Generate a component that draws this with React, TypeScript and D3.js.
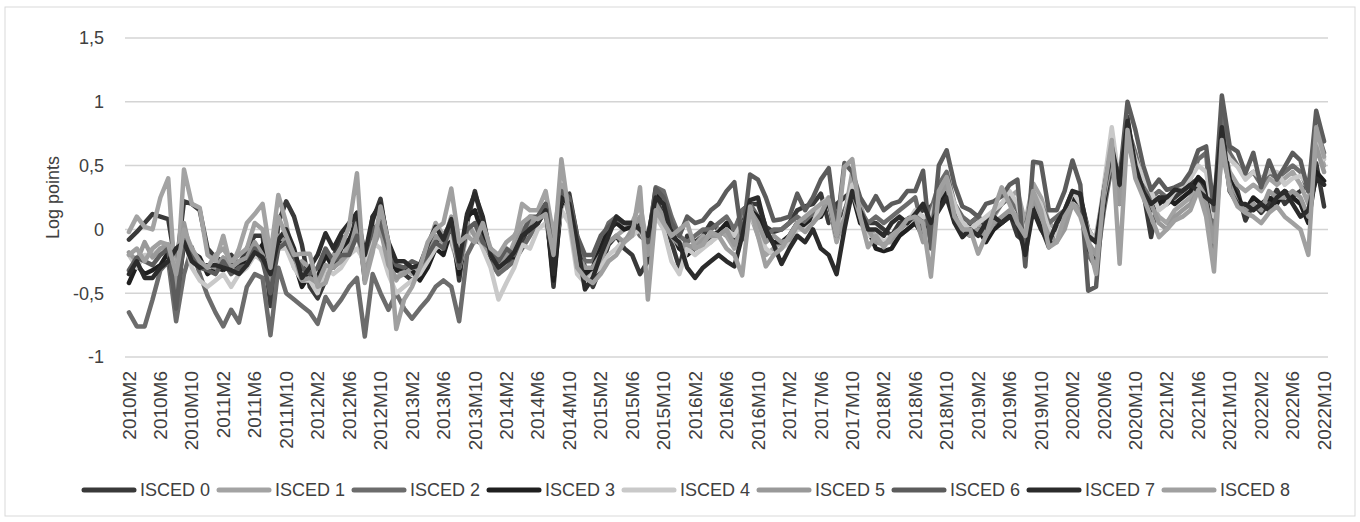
import React from "react";
import * as d3 from "d3";

// ---------- DATA ----------
const years: number[] = [2010, 2011, 2012, 2013, 2014, 2015, 2016, 2017, 2018, 2019, 2020, 2021, 2022];
const categories: string[] = [];
years.forEach((yr) => {
  for (let m = 1; m <= 12; m++) {
    if (yr === 2010 && m < 2) continue;
    if (yr === 2022 && m > 10) continue;
    categories.push(`${yr}M${m}`);
  }
});

const seriesNames: string[] = ["ISCED 0", "ISCED 1", "ISCED 2", "ISCED 3", "ISCED 4", "ISCED 5", "ISCED 6", "ISCED 7", "ISCED 8"];
const seriesColors: string[] = ["#393939", "#a3a3a3", "#6c6c6c", "#1f1f1f", "#c9c9c9", "#999999", "#5c5c5c", "#2b2b2b", "#a0a0a0"];

const isced0: number[] = [
  -0.08, -0.02, 0.05, 0.12, 0.10, 0.08, -0.30, 0.22, 0.20, 0.15, -0.15,
  -0.22, -0.25, -0.20, -0.28, -0.15, -0.05, -0.05, -0.60, 0.05, 0.22, 0.10, -0.12,
  -0.45, -0.54, -0.40, -0.22, -0.05, -0.13, 0.13, -0.40, 0.07, 0.24, -0.15, -0.32,
  -0.35, -0.40, -0.35, -0.20, -0.10, -0.05, 0.05, -0.40, 0.05, 0.30, 0.05, -0.28,
  -0.30, -0.30, -0.20, -0.10, 0.05, 0.10, 0.20, -0.45, 0.25, 0.28, -0.05, -0.30,
  -0.45, -0.30, -0.12, -0.05, -0.15, -0.20, -0.35, -0.25, 0.25, 0.10, -0.10, -0.30,
  -0.05, -0.10, -0.05, 0.05, 0.00, -0.05, -0.02, 0.15, 0.20, 0.20, 0.02, -0.02,
  0.00, 0.05, 0.15, 0.18, 0.20, 0.28, 0.05, 0.20, 0.25, 0.30, 0.10, 0.05,
  0.05, 0.00, -0.05, 0.05, 0.08, 0.12, 0.15, 0.18, 0.25, 0.33, 0.10, -0.05,
  0.05, 0.10, 0.00, 0.05, 0.07, 0.13, -0.05, -0.10, 0.18, 0.02, -0.14, 0.05,
  0.10, 0.28, 0.25, 0.00, -0.10, 0.25, 0.65, 0.20, 0.88, 0.45, 0.30, -0.06,
  0.25, 0.20, 0.25, 0.30, 0.35, 0.40, 0.30, 0.15, 0.83, 0.40, 0.30, 0.07,
  0.20, 0.13, 0.20, 0.31, 0.20, 0.26, 0.30, 0.35, 0.52, 0.18,
];
const isced1: number[] = [
  -0.02, 0.10, 0.02, 0.00, 0.25, 0.40, -0.50, 0.47, 0.20, 0.17, -0.20,
  -0.25, -0.05, -0.30, -0.15, 0.05, 0.12, 0.20, -0.20, 0.27, 0.05, -0.30, -0.25,
  -0.30, -0.45, -0.38, -0.20, -0.25, -0.10, 0.00, -0.35, -0.05, 0.05, -0.25, -0.40,
  -0.30, -0.35, -0.30, -0.15, 0.05, -0.05, -0.10, -0.30, 0.05, -0.05, -0.10, -0.25,
  -0.35, -0.25, -0.10, 0.20, 0.15, 0.15, 0.30, -0.05, 0.35, 0.10, -0.25, -0.38,
  -0.35, -0.25, -0.10, -0.05, 0.00, 0.05, 0.20, -0.15, 0.15, 0.05, -0.05, -0.15,
  -0.15, -0.12, -0.05, -0.10, 0.00, -0.05, -0.15, 0.10, 0.12, -0.05, -0.20, -0.15,
  -0.10, -0.05, 0.05, 0.00, 0.05, 0.15, 0.20, -0.10, 0.10, 0.45, 0.20, 0.00,
  -0.05, -0.10, -0.10, -0.05, 0.00, 0.05, 0.10, 0.00, 0.20, 0.30, 0.15, 0.05,
  0.00, 0.05, -0.05, 0.10, 0.20, 0.25, 0.30, 0.05, 0.36, 0.25, 0.05, 0.00,
  0.05, 0.20, 0.15, -0.10, -0.05, 0.30, 0.60, 0.30, 0.70, 0.50, 0.35, 0.20,
  0.10, 0.05, 0.15, 0.20, 0.25, 0.35, 0.25, 0.00, 0.70, 0.45, 0.35, 0.30,
  0.35, 0.30, 0.40, 0.35, 0.40, 0.45, 0.35, 0.20, 0.70, 0.50,
];
const isced2: number[] = [
  -0.65, -0.76, -0.76, -0.55, -0.32, -0.25, -0.72, -0.35, -0.14, -0.35, -0.52,
  -0.65, -0.76, -0.63, -0.73, -0.45, -0.35, -0.38, -0.83, -0.30, -0.50, -0.55, -0.60,
  -0.65, -0.74, -0.53, -0.63, -0.55, -0.45, -0.38, -0.84, -0.35, -0.50, -0.63, -0.50,
  -0.62, -0.70, -0.62, -0.55, -0.45, -0.40, -0.45, -0.72, -0.20, -0.08, -0.12, -0.25,
  -0.35, -0.30, -0.25, -0.15, -0.05, 0.05, 0.15, -0.30, 0.20, 0.22, -0.10, -0.25,
  -0.25, -0.10, 0.05, 0.10, 0.05, 0.05, -0.05, -0.10, 0.33, 0.30, 0.10, -0.05,
  -0.10, -0.05, 0.00, 0.00, 0.05, 0.10, 0.00, 0.15, 0.20, 0.10, -0.05, 0.00,
  0.00, 0.05, 0.10, 0.05, 0.12, 0.15, 0.20, 0.00, 0.15, 0.30, 0.15, 0.05,
  0.10, 0.05, 0.10, 0.15, 0.20, 0.25, 0.00, 0.15, 0.35, 0.45, 0.20, 0.10,
  0.05, 0.10, 0.05, 0.12, 0.20, 0.25, 0.15, 0.00, 0.30, 0.20, 0.05, 0.10,
  0.15, 0.30, 0.20, -0.20, -0.30, 0.15, 0.50, 0.35, 0.80, 0.60, 0.35, 0.25,
  0.30, 0.25, 0.30, 0.35, 0.40, 0.55, 0.60, -0.14, 0.95, 0.60, 0.50, 0.40,
  0.45, 0.35, 0.45, 0.40, 0.45, 0.50, 0.45, 0.30, 0.80, 0.60,
];
const isced3: number[] = [
  -0.42, -0.28, -0.35, -0.32, -0.28, -0.18, -0.55, -0.12, -0.18, -0.22, -0.35,
  -0.30, -0.32, -0.28, -0.30, -0.25, -0.20, -0.12, -0.45, -0.10, -0.05, -0.25, -0.45,
  -0.35, -0.38, -0.20, -0.30, -0.15, -0.08, 0.05, -0.30, 0.10, 0.18, -0.20, -0.32,
  -0.30, -0.32, -0.40, -0.30, -0.15, -0.20, 0.00, -0.35, 0.10, 0.15, -0.05, -0.22,
  -0.28, -0.20, -0.22, -0.05, 0.00, 0.05, 0.18, -0.40, 0.20, 0.25, -0.15, -0.35,
  -0.30, -0.15, 0.00, 0.05, 0.00, 0.02, 0.05, -0.20, 0.30, 0.20, 0.00, -0.15,
  -0.20, -0.15, -0.10, -0.05, -0.02, 0.05, -0.10, 0.05, 0.15, 0.10, -0.05, -0.10,
  -0.10, -0.05, 0.05, 0.02, 0.08, 0.10, 0.22, -0.05, 0.12, 0.28, 0.05, 0.00,
  -0.15, -0.17, -0.15, -0.05, 0.00, 0.05, -0.05, 0.05, 0.20, 0.30, 0.15, 0.00,
  -0.05, 0.00, -0.10, 0.00, 0.05, 0.10, 0.10, -0.15, 0.20, 0.05, -0.10, 0.00,
  0.05, 0.25, 0.20, -0.15, -0.25, 0.20, 0.55, 0.30, 0.75, 0.50, 0.30, 0.15,
  0.20, 0.25, 0.20, 0.25, 0.30, 0.41, 0.35, 0.10, 0.75, 0.39, 0.25, 0.15,
  0.25, 0.20, 0.25, 0.20, 0.30, 0.25, 0.20, 0.05, 0.45, 0.38,
];
const isced4: number[] = [
  -0.20, -0.30, -0.20, -0.20, -0.15, -0.12, -0.35, -0.05, -0.30, -0.40, -0.45,
  -0.40, -0.35, -0.45, -0.35, -0.30, -0.20, -0.25, -0.35, -0.15, -0.15, -0.30, -0.40,
  -0.40, -0.50, -0.30, -0.35, -0.30, -0.20, -0.15, -0.25, -0.10, -0.15, -0.35, -0.50,
  -0.45, -0.40, -0.35, -0.25, -0.15, -0.10, -0.05, -0.30, -0.05, 0.00, -0.15, -0.30,
  -0.55, -0.42, -0.30, -0.12, -0.15, 0.00, 0.05, -0.20, 0.15, 0.05, -0.35, -0.42,
  -0.35, -0.30, -0.20, -0.15, -0.08, -0.05, 0.00, -0.15, 0.10, 0.00, -0.25, -0.35,
  -0.15, -0.20, -0.15, -0.10, -0.05, 0.00, -0.05, 0.05, 0.10, 0.00, -0.15, -0.20,
  -0.15, -0.10, 0.00, 0.00, 0.05, 0.20, 0.25, 0.00, 0.10, 0.35, 0.15, -0.05,
  -0.05, -0.10, -0.05, 0.00, 0.05, 0.15, 0.10, 0.10, 0.30, 0.40, 0.20, 0.05,
  0.00, 0.05, 0.10, 0.15, 0.20, 0.30, 0.20, -0.05, 0.30, 0.20, 0.00, -0.05,
  0.10, 0.30, 0.20, 0.00, -0.10, 0.35, 0.80, 0.35, 0.78, 0.55, 0.40, 0.30,
  0.15, 0.20, 0.30, 0.35, 0.40, 0.50, 0.45, 0.10, 0.65, 0.55, 0.49, 0.39,
  0.45, 0.40, 0.45, 0.45, 0.35, 0.40, 0.42, 0.35, 0.75, 0.55,
];
const isced5: number[] = [
  -0.18, -0.25, -0.10, -0.22, -0.15, -0.12, -0.50, 0.05, -0.22, -0.30, -0.28,
  -0.30, -0.22, -0.30, -0.25, -0.22, -0.10, -0.20, -0.40, -0.05, -0.10, -0.20, -0.40,
  -0.38, -0.42, -0.28, -0.30, -0.25, -0.18, 0.05, -0.35, -0.15, 0.00, -0.28, -0.38,
  -0.35, -0.30, -0.30, -0.20, -0.05, -0.10, 0.10, -0.25, 0.05, -0.05, -0.10, -0.20,
  -0.30, -0.20, -0.15, 0.00, 0.05, 0.10, 0.12, -0.15, 0.30, 0.15, -0.20, -0.30,
  -0.30, -0.20, -0.10, -0.05, -0.10, 0.00, 0.10, -0.20, 0.20, 0.10, -0.05, -0.12,
  -0.12, -0.15, -0.08, -0.05, -0.05, 0.00, -0.12, 0.00, 0.15, 0.05, -0.10, -0.05,
  -0.10, -0.08, 0.03, -0.02, 0.05, 0.12, 0.25, -0.05, 0.08, 0.30, 0.10, 0.00,
  -0.10, -0.12, -0.08, 0.00, 0.05, 0.10, -0.10, 0.05, 0.25, 0.35, 0.10, 0.00,
  -0.05, 0.00, -0.05, 0.05, 0.10, 0.15, 0.10, -0.10, 0.25, 0.10, -0.05, -0.10,
  0.00, 0.20, 0.15, -0.10, -0.20, 0.25, 0.55, 0.20, 0.70, 0.45, 0.30, 0.20,
  0.05, 0.00, 0.10, 0.15, 0.20, 0.30, 0.20, -0.10, 0.60, 0.35, 0.20, 0.15,
  0.20, 0.15, 0.30, 0.25, 0.25, 0.30, 0.25, 0.10, 0.65, 0.45,
];
const isced6: number[] = [
  -0.32, -0.22, -0.25, -0.28, -0.20, -0.15, -0.62, -0.08, -0.20, -0.30, -0.32,
  -0.35, -0.25, -0.35, -0.30, -0.28, -0.15, -0.25, -0.50, -0.15, -0.10, -0.22, -0.30,
  -0.35, -0.30, -0.15, -0.25, -0.20, -0.20, -0.05, -0.20, 0.00, 0.05, -0.15, -0.28,
  -0.30, -0.25, -0.28, -0.20, -0.10, -0.15, 0.05, -0.30, 0.00, 0.05, -0.10, -0.15,
  -0.25, -0.15, -0.20, -0.05, 0.10, 0.10, 0.20, -0.25, 0.30, 0.25, -0.05, -0.20,
  -0.20, -0.05, 0.02, 0.08, 0.05, 0.05, 0.00, -0.10, 0.32, 0.25, 0.05, -0.05,
  0.10, 0.05, 0.07, 0.15, 0.20, 0.30, 0.37, -0.08, 0.43, 0.39, 0.25, 0.07,
  0.08, 0.10, 0.28, 0.15, 0.25, 0.39, 0.48, 0.00, 0.52, 0.45, 0.25, 0.15,
  0.26, 0.15, 0.20, 0.22, 0.30, 0.30, 0.46, -0.15, 0.50, 0.62, 0.35, 0.18,
  0.15, 0.10, 0.20, 0.22, 0.26, 0.35, 0.39, -0.29, 0.53, 0.52, 0.15, 0.15,
  0.30, 0.54, 0.35, -0.48, -0.45, 0.30, 0.60, 0.40, 1.00, 0.78, 0.50, 0.31,
  0.39, 0.31, 0.33, 0.36, 0.45, 0.62, 0.65, 0.15, 1.05, 0.65, 0.61, 0.44,
  0.60, 0.33, 0.54, 0.39, 0.49, 0.60, 0.54, 0.30, 0.93, 0.69,
];
const isced7: number[] = [
  -0.35, -0.25, -0.38, -0.38, -0.30, -0.25, -0.15, -0.10, -0.25, -0.30, -0.28,
  -0.28, -0.30, -0.32, -0.35, -0.28, -0.18, -0.22, -0.35, -0.08, 0.00, -0.15, -0.38,
  -0.30, -0.20, -0.03, -0.15, -0.03, 0.05, 0.13, -0.20, 0.10, 0.20, -0.10, -0.25,
  -0.25, -0.30, -0.28, -0.12, 0.02, -0.08, 0.08, -0.25, 0.12, 0.28, 0.10, -0.20,
  -0.30, -0.25, -0.18, -0.05, 0.00, 0.05, 0.15, -0.35, 0.25, 0.20, -0.10, -0.47,
  -0.38, -0.20, -0.05, 0.10, 0.05, 0.05, 0.00, -0.05, 0.25, 0.20, -0.05, -0.10,
  -0.30, -0.38, -0.30, -0.25, -0.20, -0.25, -0.29, -0.05, 0.23, 0.25, 0.00, -0.12,
  -0.27, -0.15, -0.05, -0.10, 0.00, -0.15, -0.20, -0.35, 0.00, 0.30, 0.15, 0.00,
  0.00, -0.05, 0.05, 0.10, 0.05, 0.12, 0.20, 0.05, 0.15, 0.25, 0.05, -0.06,
  0.00, -0.05, 0.05, 0.10, 0.05, 0.10, 0.05, -0.20, 0.15, 0.00, -0.10, 0.05,
  0.15, 0.30, 0.28, -0.05, -0.10, 0.30, 0.65, 0.35, 0.85, 0.50, 0.30, 0.20,
  0.25, 0.25, 0.31, 0.30, 0.35, 0.30, 0.25, 0.20, 0.80, 0.30, 0.20, 0.20,
  0.15, 0.20, 0.15, 0.25, 0.30, 0.20, 0.10, 0.15, 0.40, 0.35,
];
const isced8: number[] = [
  -0.20, -0.15, -0.25, -0.15, -0.10, -0.12, -0.35, 0.00, -0.15, -0.25, -0.30,
  -0.20, -0.15, -0.25, -0.20, -0.15, 0.05, 0.00, -0.30, 0.10, -0.05, -0.20, -0.19,
  -0.19, -0.45, -0.42, -0.24, -0.14, 0.02, 0.44, -0.42, -0.18, 0.18, -0.10, -0.78,
  -0.55, -0.45, -0.30, -0.10, 0.00, 0.05, 0.32, -0.10, -0.05, -0.10, 0.05, -0.15,
  -0.20, -0.10, -0.05, 0.05, 0.10, 0.08, 0.12, -0.20, 0.55, 0.10, -0.30, -0.38,
  -0.42, -0.35, -0.25, -0.20, -0.10, -0.05, 0.33, -0.55, 0.15, 0.05, -0.05, 0.00,
  0.05, -0.15, -0.12, -0.02, -0.05, -0.15, -0.20, -0.36, 0.18, -0.05, -0.29, -0.20,
  -0.15, -0.05, 0.05, 0.10, 0.15, 0.20, 0.23, -0.05, 0.49, 0.55, 0.10, -0.14,
  -0.05, -0.14, -0.05, 0.00, 0.08, 0.10, 0.05, -0.37, 0.30, 0.41, 0.10, 0.00,
  0.00, -0.19, -0.05, 0.15, 0.33, 0.20, 0.05, -0.05, 0.30, 0.15, -0.14, -0.10,
  0.10, 0.20, 0.10, -0.10, -0.35, 0.30, 0.70, -0.27, 0.78, 0.40, 0.25, 0.10,
  -0.06, 0.00, 0.07, 0.10, 0.15, 0.31, 0.10, -0.33, 0.70, 0.31, 0.18, 0.13,
  0.10, 0.05, 0.13, 0.18, 0.10, 0.05, 0.00, -0.20, 0.80, 0.57,
];

const seriesValues: number[][] = [isced0, isced1, isced2, isced3, isced4, isced5, isced6, isced7, isced8];

const yTickValues: number[] = [-1, -0.5, 0, 0.5, 1, 1.5];
const xTickLabels: string[] = categories.filter((_, i) => i % 4 === 0);
const yAxisTitle = "Log points";

// ---------- LAYOUT ----------
const W = 1360;
const H = 522;
const M = { left: 125, right: 1328, top: 38, bottom: 357 };
const FONT = "'Liberation Sans', Arial, sans-serif";
const TEXT_COLOR = "#404040";

export default function App() {
  const x = d3.scaleBand<string>().domain(categories).range([M.left, M.right]).padding(0);
  const bw = x.bandwidth();
  const cx = (c: string) => (x(c) as number) + bw / 2;
  const y = d3.scaleLinear().domain([-1, 1.5]).range([M.bottom, M.top]);

  const line = d3
    .line<number>()
    .x((_, i) => cx(categories[i]))
    .y((d) => y(d));

  const fmt = (v: number) => String(v).replace(".", ",");

  const legendTextStart = 140;
  const legendPitch = 135;
  const legendY = 490;

  return (
    <div style={{ position: "absolute", left: 0, top: 0 }}>
      <svg width={W} height={H} style={{ display: "block", background: "#fff" }}>
        <rect x={5} y={7} width={1350} height={509} fill="#fff" stroke="#d9d9d9" strokeWidth={1} />
        {yTickValues.map((v) => (
          <line key={"g" + v} x1={M.left} x2={M.right} y1={y(v)} y2={y(v)} stroke="#d4d4d4" strokeWidth={1.5} />
        ))}
        {yTickValues.map((v) => (
          <text
            key={"yl" + v}
            x={104}
            y={y(v)}
            dy="0.35em"
            textAnchor="end"
            fontFamily={FONT}
            fontSize={18}
            fill={TEXT_COLOR}
          >
            {fmt(v)}
          </text>
        ))}
        <text
          transform={`translate(53,${(y(0) + y(0.5)) / 2}) rotate(-90)`}
          textAnchor="middle"
          dy="0.35em"
          fontFamily={FONT}
          fontSize={18}
          fill={TEXT_COLOR}
        >
          {yAxisTitle}
        </text>
        {xTickLabels.map((c) => (
          <text
            key={"xl" + c}
            transform={`translate(${cx(c)},${M.bottom + 14}) rotate(-90)`}
            textAnchor="end"
            dy="0.35em"
            fontFamily={FONT}
            fontSize={19}
            fill={TEXT_COLOR}
          >
            {c}
          </text>
        ))}
        {seriesValues.map((vals, si) => (
          <path
            key={"s" + si}
            d={line(vals) || ""}
            fill="none"
            stroke={seriesColors[si]}
            strokeWidth={4.5}
            strokeLinejoin="round"
            strokeLinecap="round"
          />
        ))}
        {seriesNames.map((name, si) => {
          const tx = legendTextStart + si * legendPitch;
          return (
            <g key={"lg" + si}>
              <line
                x1={tx - 56}
                x2={tx - 6}
                y1={legendY}
                y2={legendY}
                stroke={seriesColors[si]}
                strokeWidth={5}
                strokeLinecap="round"
              />
              <text x={tx} y={legendY} dy="0.35em" fontFamily={FONT} fontSize={18} fill={TEXT_COLOR}>
                {name}
              </text>
            </g>
          );
        })}
      </svg>
    </div>
  );
}
